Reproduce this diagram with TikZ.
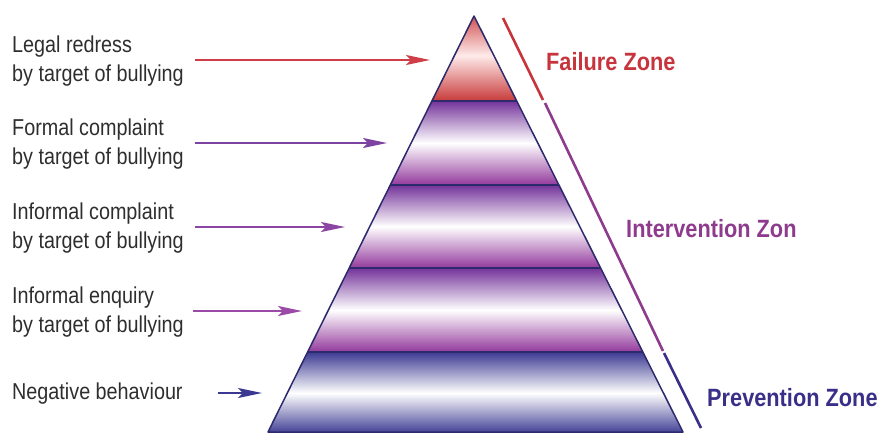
\documentclass[tikz,border=0pt]{standalone}
\usepackage{fontspec}
\setmainfont{Liberation Sans}[FakeStretch=0.86]
\newfontfamily\zonefont{Liberation Sans}[FakeStretch=0.87]
\usetikzlibrary{arrows.meta}
\definecolor{redz}{HTML}{C8343C}
\definecolor{purz}{HTML}{8E3B8E}
\definecolor{bluz}{HTML}{3A2F88}
\definecolor{navy}{HTML}{2C2A6C}
\definecolor{bandred}{HTML}{C83A3A}
\definecolor{bandvio}{HTML}{74339A}
\definecolor{bandmag}{HTML}{93399C}
\definecolor{bandblu}{HTML}{3C3A92}
\definecolor{arrred}{HTML}{CF3E48}
\definecolor{arrpur}{HTML}{7E42A0}
\definecolor{arrpur2}{HTML}{8A46A2}
\definecolor{arrmag}{HTML}{9C4AA8}
\definecolor{arrblu}{HTML}{3A3890}
\tikzset{
  lbl/.style={anchor=base west, align=left, inner sep=0pt, font=\fontsize{23}{29}\selectfont, text=black!82},
  zone/.style={anchor=base west, inner sep=0pt, font=\zonefont\bfseries\fontsize{25}{30}\selectfont},
  parrow/.style={line width=2.2pt, -{Stealth[length=24pt,width=10pt,inset=5pt]}},
  zline/.style={line width=2.6pt},
  sep/.style={navy, line width=1.2pt}
}
\begin{document}
\begin{tikzpicture}[x=1pt,y=-1pt]
\useasboundingbox (0,0) rectangle (880,434);
% pyramid geometry
\coordinate (apex) at (474,16);
\coordinate (bl) at (268,432);
\coordinate (br) at (683,432);
\begin{scope}
  \clip (apex) -- (br) -- (bl) -- cycle;
  \fill[top color=bandred, bottom color=bandred, middle color=red!8] (200,10) rectangle (760,101);
  \fill[top color=bandvio, bottom color=bandmag, middle color=white] (200,101) rectangle (760,185);
  \fill[top color=bandvio, bottom color=bandmag, middle color=white] (200,185) rectangle (760,268);
  \fill[top color=bandvio, bottom color=bandmag, middle color=white] (200,268) rectangle (760,352);
  \fill[top color=bandblu, bottom color=bandblu, middle color=white] (200,352) rectangle (760,434);
  \draw[sep] (200,101) -- (760,101);
  \draw[sep] (200,185) -- (760,185);
  \draw[sep] (200,268) -- (760,268);
  \draw[sep] (200,352) -- (760,352);
\end{scope}
\draw[navy, line width=1.5pt, line join=round] (apex) -- (br) -- (bl) -- cycle;
% zone lines
\coordinate (z0) at (503,18);
\coordinate (z1) at (543,100);
\coordinate (z2) at (545,103);
\coordinate (z3) at (663,351);
\coordinate (z4) at (664,353);
\coordinate (z5) at (701,428);
\draw[zline, redz] (z0) -- (z1);
\draw[zline, purz] (z2) -- (z3);
\draw[zline, bluz] (z4) -- (z5);
% zone labels
\node[zone, text=redz] (fz) at (546,70) {Failure Zone};
\node[zone, text=purz] (iz) at (626,237) {Intervention Zon};
\node[zone, text=bluz] (pz) at (707,406) {Prevention Zone};
% left labels (anchor = baseline of last line)
\node[lbl] (l1) at (12,81) {Legal redress\\by target of bullying};
\node[lbl] (l2) at (12,164) {Formal complaint\\by target of bullying};
\node[lbl] (l3) at (12,248) {Informal complaint\\by target of bullying};
\node[lbl] (l4) at (12,332) {Informal enquiry\\by target of bullying};
\node[lbl] (l5) at (12,399) {Negative behaviour};
% arrows
\coordinate (a1s) at (195,60); \coordinate (a1e) at (430,60);
\coordinate (a2s) at (195,143); \coordinate (a2e) at (387,143);
\coordinate (a3s) at (195,227); \coordinate (a3e) at (345,227);
\coordinate (a4s) at (193,311); \coordinate (a4e) at (302,311);
\coordinate (a5s) at (218,393); \coordinate (a5e) at (262,393);
\draw[parrow, arrred] (a1s) -- (a1e);
\draw[parrow, arrpur] (a2s) -- (a2e);
\draw[parrow, arrpur2] (a3s) -- (a3e);
\draw[parrow, arrmag] (a4s) -- (a4e);
\draw[parrow, arrblu] (a5s) -- (a5e);
\end{tikzpicture}
\end{document}
